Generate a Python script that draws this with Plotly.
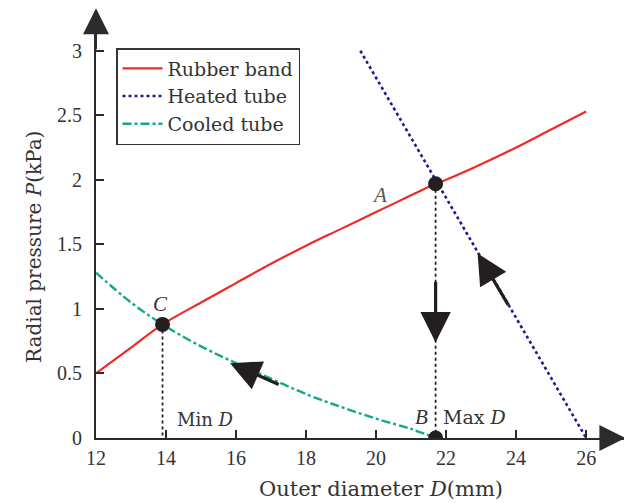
import plotly.graph_objects as go

rubber_D = [12, 13, 13.9, 15, 16, 17, 18, 19, 20, 21, 21.7, 22, 23, 24, 25, 26]
rubber_P = [0.50, 0.70, 0.88, 1.05, 1.20, 1.35, 1.49, 1.62, 1.75, 1.88, 1.97, 2.00, 2.12, 2.25, 2.39, 2.53]
heated_D = [19.55, 26]
heated_P = [3.0, 0.0]
cooled_D = [12, 13, 13.9, 15, 16, 17, 18, 19, 20, 21, 21.7]
cooled_P = [1.28, 1.05, 0.88, 0.71, 0.58, 0.46, 0.34, 0.24, 0.15, 0.07, 0.0]
pt_names = ["A", "B", "C"]
pt_D = [21.7, 21.7, 13.9]
pt_P = [1.97, 0.0, 0.88]
x_ticks = [12, 14, 16, 18, 20, 22, 24, 26]
y_ticks = [0, 0.5, 1, 1.5, 2, 2.5, 3]
y_ticklabels = ["0", "0.5", "1", "1.5", "2", "2.5", "3"]

TFONT = "Liberation Serif"
WFONT = "DejaVu Serif"
AX = "#2b2b2b"
TXT = "#333333"

# the page body adds an 8px offset, so the figure is 8px smaller
W, H = 624, 495
L, R, T, B = 88, 7, 4, 65
PW, PH = W - L - R, H - T - B

fig = go.Figure()
fig.add_trace(go.Scatter(x=[pt_D[2], pt_D[2]], y=[pt_P[2], 0], mode="lines",
                         line=dict(color="#222", width=1.8, dash="dot"), showlegend=False))
fig.add_trace(go.Scatter(x=[pt_D[0], pt_D[1]], y=[pt_P[0], pt_P[1]], mode="lines",
                         line=dict(color="#222", width=1.8, dash="dot"), showlegend=False))
fig.add_trace(go.Scatter(x=rubber_D, y=rubber_P, mode="lines", name="Rubber band",
                         line=dict(color="#ee2a2a", width=2.2, shape="spline")))
fig.add_trace(go.Scatter(x=heated_D, y=heated_P, mode="lines", name="Heated tube",
                         line=dict(color="#1c1c92", width=2.6, dash="dot")))
fig.add_trace(go.Scatter(x=cooled_D, y=cooled_P, mode="lines", name="Cooled tube",
                         line=dict(color="#13a88a", width=2.4, dash="dashdot", shape="spline")))
fig.add_trace(go.Scatter(x=pt_D, y=pt_P, mode="markers", showlegend=False,
                         marker=dict(color="#231f20", size=15)))

ann = []
ann.append(dict(x=12, y=3.33, ax=12, ay=3.0, xref="x", yref="y", axref="x", ayref="y",
                showarrow=True, arrowhead=2, arrowsize=2.6, arrowwidth=2, arrowcolor=AX, text=""))
ann.append(dict(x=27.12, y=0, ax=26.5, ay=0, xref="x", yref="y", axref="x", ayref="y",
                showarrow=True, arrowhead=2, arrowsize=2.6, arrowwidth=2, arrowcolor=AX, text=""))
for (tx, ty, hx, hy) in [(21.7, 1.22, 21.7, 0.74), (23.8, 1.02, 22.9, 1.43), (17.26, 0.41, 15.83, 0.58)]:
    ann.append(dict(x=hx, y=hy, ax=tx, ay=ty, xref="x", yref="y", axref="x", ayref="y",
                    showarrow=True, arrowhead=2, arrowsize=1.9, arrowwidth=3.2, arrowcolor="#231f20", text=""))
ann.append(dict(x=20.1, y=1.88, text="<i>A</i>", showarrow=False, font=dict(size=21, color="#555", family=TFONT)))
ann.append(dict(x=13.85, y=1.04, text="<i>C</i>", showarrow=False, font=dict(size=21, color=TXT, family=TFONT)))
ann.append(dict(x=21.3, y=0.16, text="<i>B</i>", showarrow=False, font=dict(size=21, color=TXT, family=TFONT)))
ann.append(dict(x=21.85, y=0.16, text="Max <i>D</i>", showarrow=False, xanchor="left",
                font=dict(size=19, color=TXT, family=WFONT)))
ann.append(dict(x=14.25, y=0.14, text="Min <i>D</i>", showarrow=False, xanchor="left",
                font=dict(size=18, color=TXT, family=WFONT)))
ann.append(dict(x=(373 - L) / PW, y=-(481 - 430) / PH, xref="paper", yref="paper",
                xanchor="center", yanchor="middle",
                text="Outer diameter <i>D</i>(mm)", showarrow=False,
                font=dict(size=21, color=TXT, family=WFONT)))
ann.append(dict(x=-(L - 26) / PW, y=(430 - 239) / PH, xref="paper", yref="paper",
                xanchor="center", yanchor="middle",
                text="Radial pressure <i>P</i>(kPa)", showarrow=False, textangle=-90,
                font=dict(size=20, color=TXT, family=WFONT)))

fig.update_layout(
    annotations=ann,
    width=W, height=H,
    margin=dict(l=L, r=R, t=T, b=B, autoexpand=False),
    plot_bgcolor="white", paper_bgcolor="white",
    font=dict(family=WFONT, color=TXT, size=18),
    xaxis=dict(range=[12, 27.11], tickvals=x_ticks, ticks="inside", ticklen=8, tickwidth=2,
               tickcolor=AX, showline=True, linecolor=AX, linewidth=2, showgrid=False,
               zeroline=False, tickfont=dict(size=20, family=TFONT, color=TXT), ticklabelstandoff=1,
               automargin=False),
    yaxis=dict(range=[0, 3.30], tickvals=y_ticks, ticktext=y_ticklabels, ticks="inside", ticklen=8,
               tickwidth=2, tickcolor=AX, showline=True, linecolor=AX, linewidth=2, showgrid=False,
               zeroline=False, tickfont=dict(size=20, family=TFONT, color=TXT), ticklabelstandoff=8,
               automargin=False),
    legend=dict(x=(108 - L) / PW, y=(430 - 40) / PH, xanchor="left", yanchor="top",
                bgcolor="white", bordercolor="#333", borderwidth=1.5,
                font=dict(size=19, family=WFONT, color=TXT), tracegroupgap=0, itemwidth=40),
)
fig.write_html("out.html")
